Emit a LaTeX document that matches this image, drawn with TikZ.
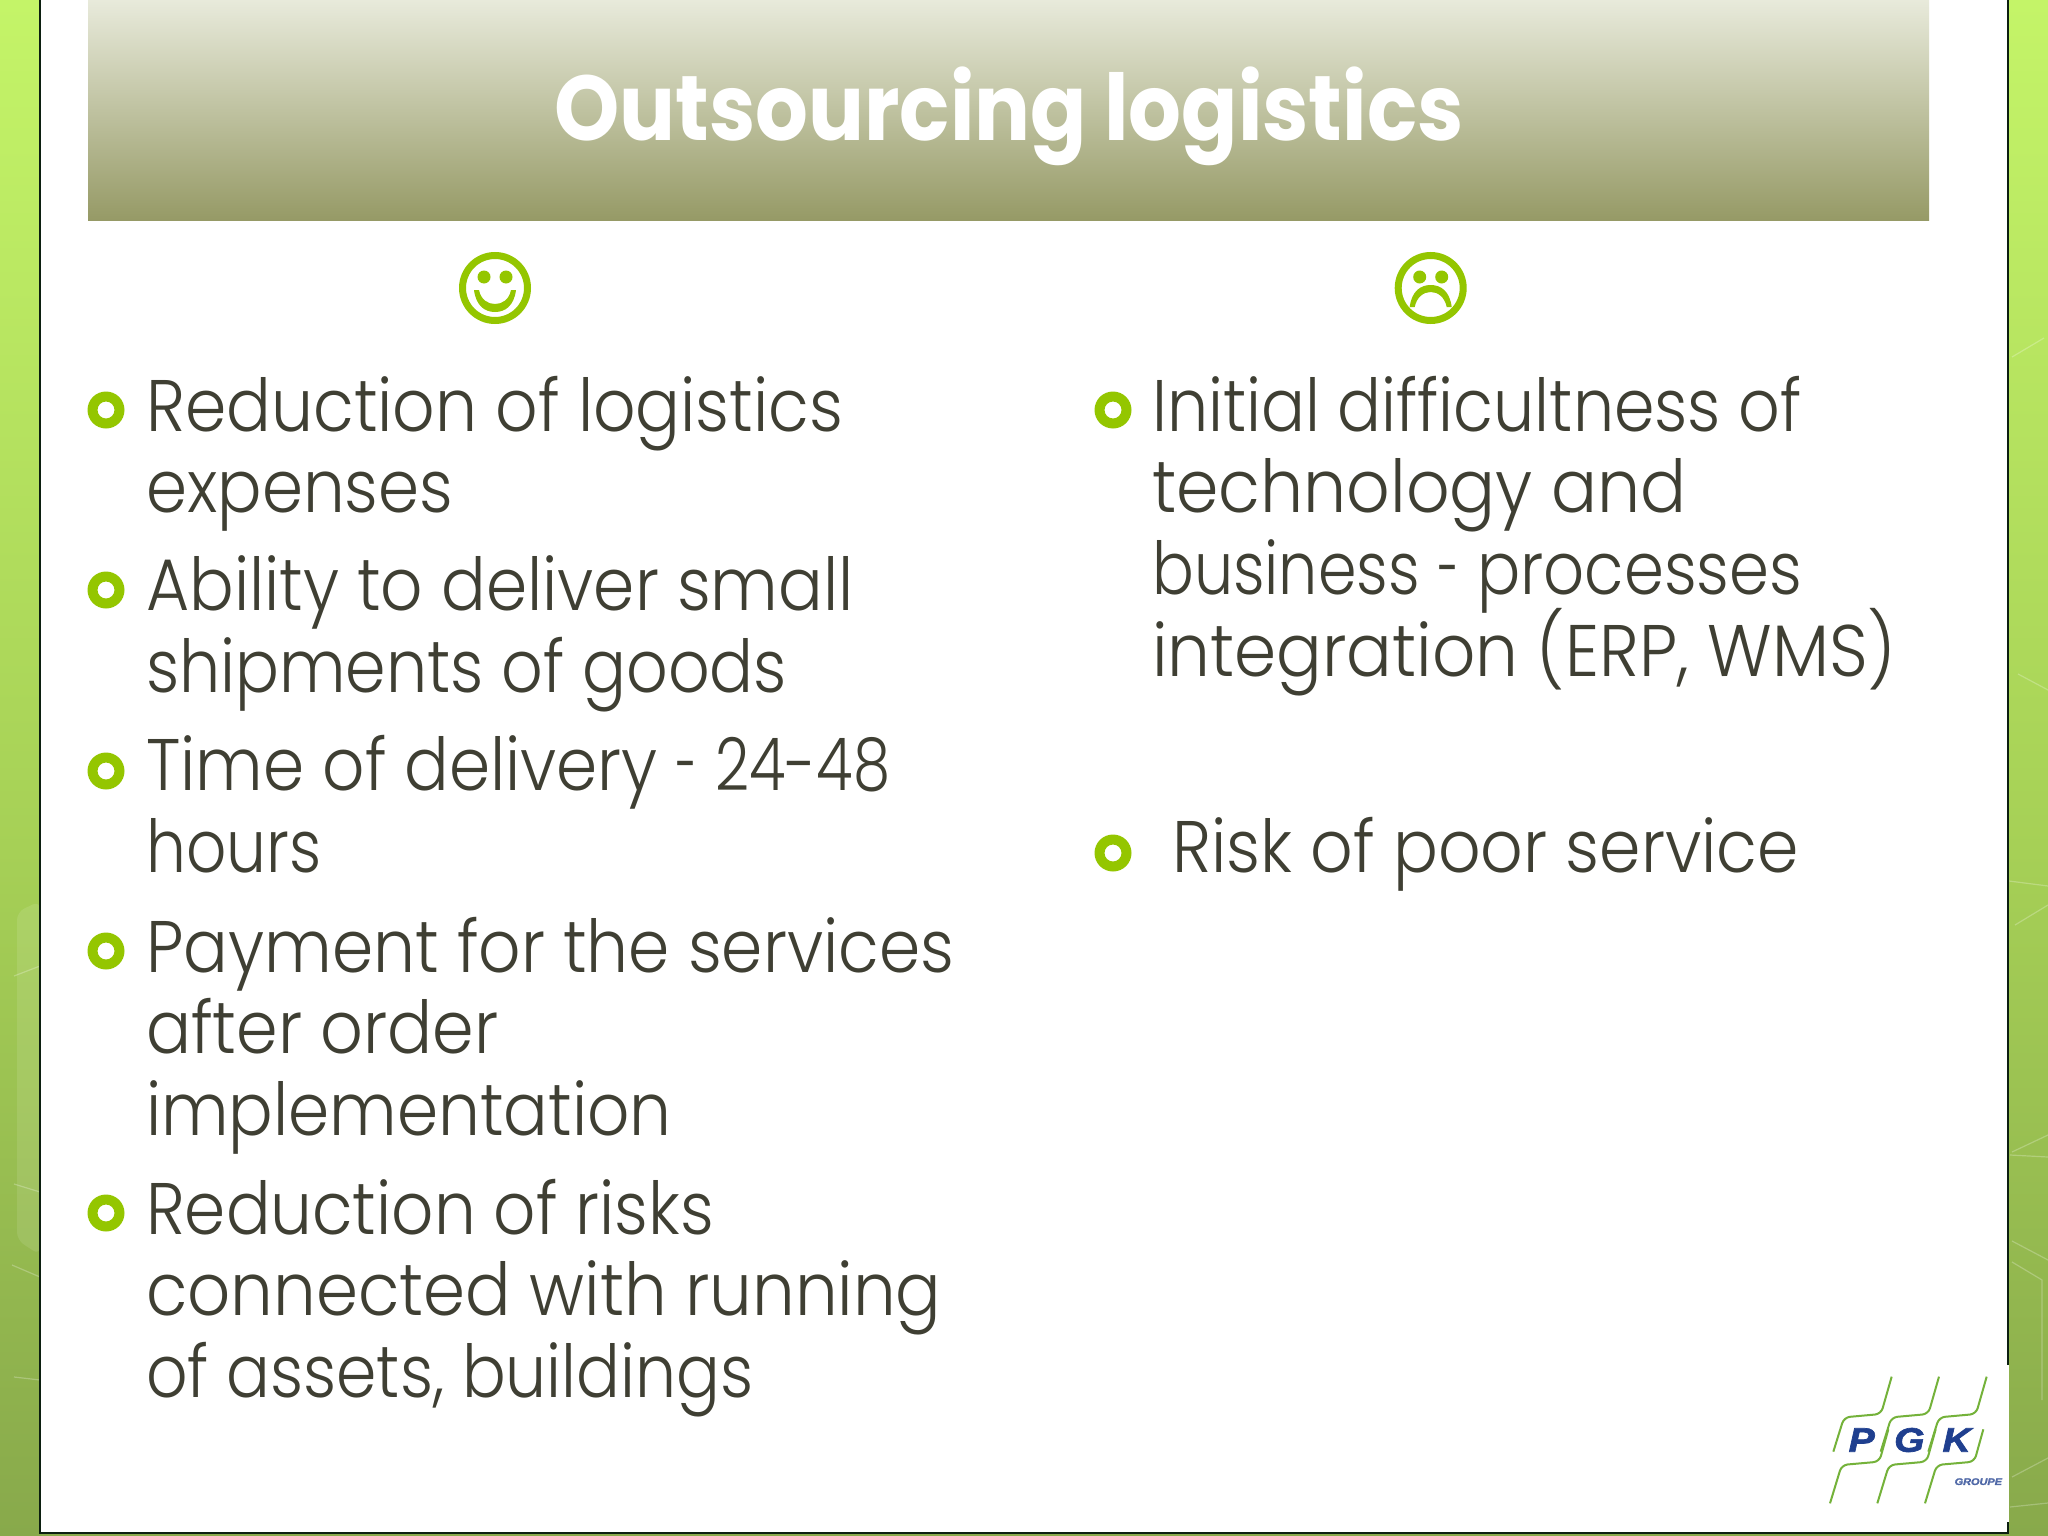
\documentclass[tikz,border=0pt]{standalone}
\usepackage{graphicx}
\usepackage{fontspec}
\setmainfont{Poppins}[UprightFont=* Light,BoldFont=* Bold,FakeStretch=0.915]
\newfontfamily\logofont{Liberation Sans}[BoldItalicFeatures={FakeBold=2,FakeStretch=1.15}]
\definecolor{bodytext}{HTML}{3F3F33}
\definecolor{accent}{HTML}{94C600}
\definecolor{stripA}{HTML}{C4F468}
\definecolor{stripB}{HTML}{A6D056}
\definecolor{stripC}{HTML}{88A94B}
\definecolor{barA}{HTML}{E8EADB}
\definecolor{barB}{HTML}{969A66}
\definecolor{framecol}{HTML}{0C1F10}
\definecolor{logogreen}{HTML}{74B23A}
\definecolor{logoblue}{HTML}{1F3F8F}
\tikzset{
  bodyline/.style={anchor=base west,inner sep=0pt,text=bodytext,font=\fontsize{73}{80}\selectfont},
  titletext/.style={anchor=base,inner sep=0pt,text=white,font=\fontsize{92}{100}\bfseries\selectfont},
  logoline/.style={draw=logogreen,line width=2pt,rounded corners=6pt},
  logoletter/.style={anchor=center,inner sep=0pt,text=logoblue,font=\logofont\fontsize{34}{36}\bfseries\itshape\selectfont},
  deco/.style={draw=white,draw opacity=.25,line width=1.2pt},
}
\newcommand{\fitw}[2]{\scalebox{#1}[1]{#2}}
\newcommand{\ringbullet}[3]{\fill[accent,even odd rule] (#2,#3) circle[radius=18.5] (#2,#3) circle[radius=8.5];\coordinate (#1) at (#2,#3);}
\begin{document}
\begin{tikzpicture}[x=1pt,y=-1pt]
\useasboundingbox (0,0) rectangle (2048,1536);
% background strips
\fill[top color=stripA,bottom color=stripB] (0,0) rectangle (2048,850);
\fill[top color=stripB,bottom color=stripC] (0,850) rectangle (2048,1536);
% faint decorations, left
\fill[white,opacity=.1,rounded corners=8pt] (40,901) -- (17,912) -- (17,1240) -- (40,1255) -- cycle;
\draw[deco] (14,976) -- (40,966);
\draw[deco] (14,1184) -- (40,1192);
\draw[deco] (12,1265) -- (40,1277);
\draw[deco] (14,1377) -- (40,1380);
% faint decorations, right
\draw[deco] (2012,357) -- (2044,338);
\draw[deco] (2018,674) -- (2048,690);
\draw[deco] (2009,881) -- (2048,886);
\draw[deco] (2015,925) -- (2048,905);
\draw[deco] (2012,1152) -- (2048,1135);
\draw[deco] (2010,1155) -- (2048,1157);
\draw[deco] (2012,1241) -- (2048,1260);
\draw[deco] (2012,1262) -- (2042,1280) -- (2042,1400);
\draw[deco] (2012,1477) -- (2048,1458);
\draw[deco] (2010,1507) -- (2048,1503);
% panel
\fill[white] (40,-2) rectangle (2008,1533);
\draw[framecol,line width=2.6pt] (40,-2) -- (40,1533) -- (2008,1533) -- (2008,-2);
% title bar
\fill[top color=barA,bottom color=barB] (88,0) rectangle (1929,220);
\node[titletext] (title) at (1009,141) {\fitw{.986}{Outsourcing logistics}};
% faces
\begin{scope}[shift={(495,288)}]
  \draw[accent,line width=7pt] (0,0) circle[radius=32.5];
  \fill[accent] (-11,-11) circle[radius=6.5] (11,-11) circle[radius=6.5];
  \fill[accent] (-21,2) .. controls (-19,18) and (-10,24) .. (0,24) .. controls (10,24) and (19,18) .. (21,2) -- (16,2) .. controls (14,12) and (7,16) .. (0,16) .. controls (-7,16) and (-14,12) .. (-16,2) -- cycle;
\end{scope}
\begin{scope}[shift={(1430.7,288)}]
  \draw[accent,line width=7pt] (0,0) circle[radius=32.5];
  \fill[accent] (-11,-11) circle[radius=6.5] (11,-11) circle[radius=6.5];
  \fill[accent] (-21,19) .. controls (-19,3) and (-10,-3) .. (0,-3) .. controls (10,-3) and (19,3) .. (21,19) -- (16,19) .. controls (14,9) and (7,4) .. (0,4) .. controls (-7,4) and (-14,9) .. (-16,19) -- cycle;
\end{scope}
% bullets
\ringbullet{b1}{106}{410}
\ringbullet{b2}{106}{590}
\ringbullet{b3}{106}{771}
\ringbullet{b4}{106}{951}
\ringbullet{b5}{106}{1213}
\ringbullet{b6}{1113}{410}
\ringbullet{b7}{1113}{853}
% left text
\node[bodyline] (l1) at (146,431) {\fitw{.994}{Reduction of logistics}};
\node[bodyline] (l2) at (146,512) {\fitw{.987}{expenses}};
\node[bodyline] (l3) at (146,610) {\fitw{.991}{Ability to deliver small}};
\node[bodyline] (l4) at (146,692) {\fitw{.974}{shipments of goods}};
\node[bodyline] (l5) at (146,790) {\fitw{.99}{Time of delivery} \fitw{.6}{-} \fitw{.89}{24-48}};
\node[bodyline] (l6) at (146,872) {\fitw{.943}{hours}};
\node[bodyline] (l7) at (146,972) {\fitw{.992}{Payment for the services}};
\node[bodyline] (l8) at (146,1053) {after order};
\node[bodyline] (l9) at (146,1135) {\fitw{.99}{implementation}};
\node[bodyline] (l10) at (146,1234) {\fitw{.989}{Reduction of risks}};
\node[bodyline] (l11) at (146,1315) {\fitw{1.01}{connected with running}};
\node[bodyline] (l12) at (146,1397) {\fitw{.971}{of assets, buildings}};
% right text
\node[bodyline] (r1) at (1152,431) {\fitw{.974}{Initial difficultness of}};
\node[bodyline] (r2) at (1152,512) {\fitw{1.02}{technology and}};
\node[bodyline] (r3) at (1152,594) {\fitw{.927}{business} \fitw{.6}{-} \fitw{.96}{processes}};
\node[bodyline] (r4) at (1152,676) {\fitw{1.013}{integration (ERP, WMS)}};
\node[bodyline] (r5) at (1172,872) {\fitw{.996}{Risk of poor service}};
% logo
\fill[white] (1832,1365) rectangle (2009.3,1522);
\begin{scope}[shift={(1780,1340)},x=.3333pt,y=-.3333pt]
  \foreach \d in {0,142,285}{
    \draw[logoline] (335+\d,110) -- (303+\d,222) -- (192+\d,232) -- (160+\d,335);
    \draw[logoline] (150+\d,490) -- (185+\d,375) -- (298+\d,365) -- (325+\d,268);
  }
  \node[logoletter] (lp) at (245,300) {P};
  \node[logoletter] (lg) at (388,300) {G};
  \node[logoletter] (lk) at (530,300) {K};
  \node[anchor=center,inner sep=0pt,text=logoblue,opacity=.75,font=\logofont\fontsize{9.5}{11}\bfseries\itshape\selectfont] (lt) at (595,425) {GROUPE};
\end{scope}
\end{tikzpicture}
\end{document}
